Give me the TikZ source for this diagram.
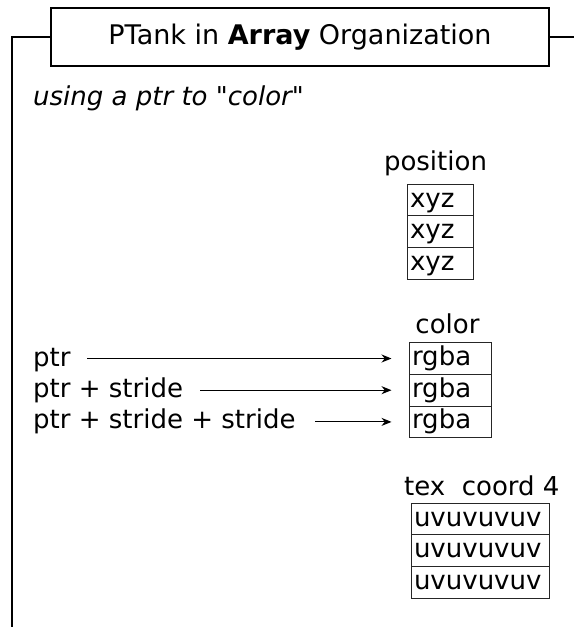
\documentclass[tikz,border=0pt]{standalone}
\usepackage{fontspec}
\setmainfont{DejaVu Sans}[Ligatures=TeXOff]
\usetikzlibrary{arrows.meta}
\tikzset{
  every node/.style={font=\fontsize{26pt}{31pt}\selectfont},
  framestyle/.style={line width=2pt, black},
  titlebox/.style={draw, line width=2pt, minimum width=498pt, minimum height=58pt, inner sep=0pt,
    font=\fontsize{27pt}{32pt}\selectfont},
  lbl/.style={inner sep=0pt, anchor=base west},
  cell/.style={draw=black!85, line width=1pt, inner xsep=3pt, inner ysep=0pt,
    minimum height=31.7pt, text height=14pt, text depth=0pt, align=left},
  arr/.style={line width=1pt, -{Stealth[length=10pt,width=8pt]}, shorten >=17pt}
}
\begin{document}
\begin{tikzpicture}[x=1pt,y=-1pt]
\useasboundingbox (0,0) rectangle (574,627);
% title and frame
\node[titlebox] (title) at (300,37) {PTank in \textbf{Array} Organization};
\coordinate (fltop) at (12,37);
\coordinate (flbot) at (12,627);
\coordinate (fr) at (574,37);
\draw[framestyle] (title.west) -- (fltop) -- (flbot);
\draw[framestyle] (title.east) -- (fr);
\node[lbl] (sub) at (33,105) {\itshape using a ptr to "color"};
% position
\node[lbl, anchor=base] (poslbl) at (435.5,170) {position};
\node[cell, text width=60pt] (x1) at (440,200) {xyz};
\node[cell, text width=60pt] (x2) at (440,231.6) {xyz};
\node[cell, text width=60pt] (x3) at (440,263.2) {xyz};
% color
\node[lbl, anchor=base] (collbl) at (447.5,333) {color};
\node[cell, text width=76pt] (c1) at (450,358.5) {rgba};
\node[cell, text width=76pt] (c2) at (450,390.2) {rgba};
\node[cell, text width=76pt] (c3) at (450,421.9) {rgba};
% tex coord
\node[lbl] (texlbl) at (404,495) {tex\ \ coord 4};
\node[cell, text width=132pt] (t1) at (480,519) {uvuvuvuv};
\node[cell, text width=132pt] (t2) at (480,550.7) {uvuvuvuv};
\node[cell, text width=132pt] (t3) at (480,582.4) {uvuvuvuv};
% pointers
\node[lbl] (p1) at (33,366) {ptr};
\node[lbl] (p2) at (33,397) {ptr + stride};
\node[lbl] (p3) at (33,428) {ptr + stride + stride};
\coordinate (s1) at (87,358.5);
\coordinate (s2) at (200,390.2);
\coordinate (s3) at (315,421.9);
\draw[arr] (s1) -- (c1.west);
\draw[arr] (s2) -- (c2.west);
\draw[arr] (s3) -- (c3.west);
\end{tikzpicture}
\end{document}
